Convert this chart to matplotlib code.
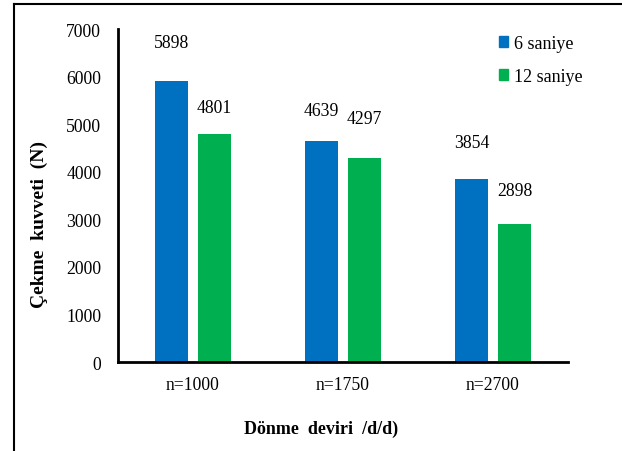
import numpy as np
import matplotlib
matplotlib.use("Agg")
import matplotlib.pyplot as plt
from matplotlib.patches import Patch
from matplotlib.lines import Line2D

# Çekme kuvveti (N) for each rotational speed and welding time
speeds = ["n=1000", "n=1750", "n=2700"]
force_6s = [5898, 4639, 3854]
force_12s = [4801, 4297, 2898]
series_names = ["6 saniye", "12 saniye"]
y_ticks = [0, 1000, 2000, 3000, 4000, 5000, 6000, 7000]

BLUE = "#0070C0"
GREEN = "#00B050"

plt.rcParams["font.family"] = ["Liberation Serif", "DejaVu Serif"]

fig = plt.figure(figsize=(6.22, 4.52), dpi=100)
ax = fig.add_axes([0.1897, 0.1969, 0.7235, 0.7367])

x = np.arange(len(speeds))
width = 0.22
off = 0.143
bars1 = ax.bar(x - off, force_6s, width, color=BLUE)
bars2 = ax.bar(x + off, force_12s, width, color=GREEN)

# value labels above the bars (offsets in points)
lift_6s = [28, 22, 26]
lift_12s = [19, 28, 24]
for bars, vals, lifts in ((bars1, force_6s, lift_6s), (bars2, force_12s, lift_12s)):
    for b, v, lf in zip(bars, vals, lifts):
        ax.annotate(str(v), (b.get_x() + b.get_width() / 2, v),
                    xytext=(0, lf), textcoords="offset points",
                    ha="center", va="center", fontsize=12.7)

ax.set_xlim(-0.5, len(speeds) - 0.5)
ax.set_ylim(0, 7000)
ax.set_yticks(y_ticks)
ax.set_xticks(x)
ax.set_xticklabels(speeds)
ax.tick_params(axis="both", length=0, labelsize=12.7)
ax.tick_params(axis="y", pad=12)
ax.tick_params(axis="x", pad=10)

for s in ("top", "right"):
    ax.spines[s].set_visible(False)
for s in ("left", "bottom"):
    ax.spines[s].set_linewidth(2)
    ax.spines[s].set_color("black")

ax.set_ylabel("Çekme  kuvveti  (N)", fontsize=14, fontweight="bold")
ax.yaxis.set_label_coords(-0.156, 0.417)
ax.set_xlabel("Dönme  deviri  /d/d)", fontsize=13, fontweight="bold")
ax.xaxis.set_label_coords(0.451, -0.172)

handles = [Patch(color=BLUE), Patch(color=GREEN)]
fig.legend(handles, series_names, loc="upper left",
           bbox_to_anchor=(0.787, 0.941), frameon=False, fontsize=13,
           handlelength=0.55, handleheight=0.55, handletextpad=0.3,
           labelspacing=0.92, borderpad=0)

# outer frame lines
fig.add_artist(Line2D([0.0225, 1.0], [0.989, 0.989], color="black", lw=1.5,
                      transform=fig.transFigure))
fig.add_artist(Line2D([0.0225, 0.0225], [0.0, 0.989], color="black", lw=1.5,
                      transform=fig.transFigure))

fig.savefig("out.png", dpi=100)
